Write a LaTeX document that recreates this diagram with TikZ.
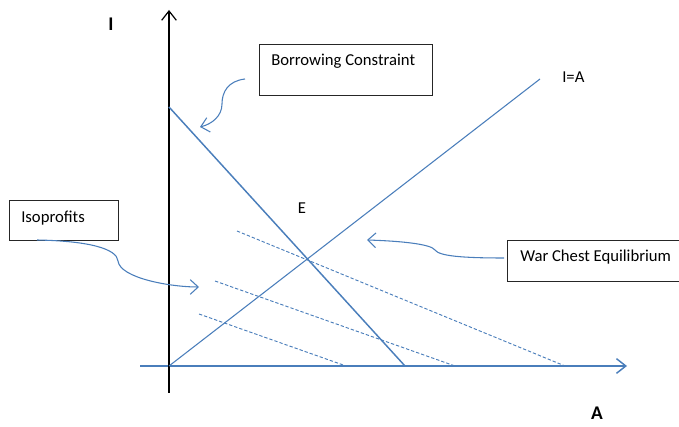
\documentclass[tikz,border=0pt]{standalone}
\usepackage{fontspec}
\setmainfont{Carlito}
\usetikzlibrary{arrows.meta}
\definecolor{lblue}{HTML}{4A7EBB}
\tikzset{
  box/.style={draw=black!85, line width=0.9pt, fill=white, anchor=north west, inner sep=0pt},
  txt/.style={font=\fontsize{12.5}{14}\selectfont, inner sep=0pt},
  axlabel/.style={font=\fontsize{14.5}{16}\selectfont\bfseries, inner sep=0pt},
  barb/.style={-{Straight Barb[length=7pt,width=11pt]}},
  callout/.style={lblue, line width=0.8pt, -{Straight Barb[length=6pt,width=11pt]}},
  iso/.style={lblue, line width=0.7pt, dash pattern=on 2.5pt off 1.5pt},
}
\begin{document}
\begin{tikzpicture}[x=0.75pt,y=-0.75pt]
\useasboundingbox (0,0) rectangle (679,427);
\clip (0,0) rectangle (679,427);
% coordinates
\coordinate (O) at (169,366);
\coordinate (ybot) at (169,393);
\coordinate (ytop) at (169,10);
\coordinate (xl) at (140,366);
\coordinate (xr) at (627,366);
\coordinate (bc1) at (169,107);
\coordinate (bc2) at (405,366);
\coordinate (ia2) at (540,79);
\coordinate (d1a) at (237,231); \coordinate (d1b) at (565,366);
\coordinate (d2a) at (215,281); \coordinate (d2b) at (455,366);
\coordinate (d3a) at (199,314); \coordinate (d3b) at (346,366);
% axes
\draw[lblue, line width=1.1pt, barb] (xl) -- (xr);
\draw[black, line width=0.9pt, barb] (ybot) -- (ytop);
% lines
\draw[lblue, line width=1.1pt] (bc1) -- (bc2);
\draw[lblue, line width=0.8pt] (O) -- (ia2);
\draw[iso] (d1a) -- (d1b);
\draw[iso] (d2a) -- (d2b);
\draw[iso] (d3a) -- (d3b);
% labels
\node[axlabel] (lI) at (111,24) {I};
\node[axlabel] (lA) at (597,413) {A};
\node[txt] (lE) at (302,208) {E};
\node[txt, anchor=west] (lIA) at (562,77) {I=A};
% boxes
\node[box, minimum width=173*0.75pt, minimum height=51*0.75pt] (bcbox) at (259,44) {};
\node[txt, anchor=west] (bctxt) at (271,61) {Borrowing Constraint};
\node[box, minimum width=109*0.75pt, minimum height=40*0.75pt] (isobox) at (9,200) {};
\node[txt, anchor=west] (isotxt) at (21,218) {Isoprofits};
\node[box, minimum width=190*0.75pt, minimum height=41*0.75pt] (wcbox) at (507,240) {};
\node[txt, anchor=west] (wctxt) at (520,257) {War Chest Equilibrium};
% callout arrows
\coordinate (bcs) at (245,79);
\coordinate (bct) at (200,127);
\draw[callout] (bcs) .. controls (228,81) and (222,92) .. (222,104) .. controls (222,116) and (212,124) .. (bct);
\coordinate (isos) at (37,240);
\coordinate (isot) at (199,287);
\draw[callout] (isos) .. controls (90,241) and (117,249) .. (118,261) .. controls (120,278) and (170,287) .. (isot);
\coordinate (wcs) at (504,258);
\coordinate (wct) at (367,240);
\draw[callout] (wcs) .. controls (462,258) and (439,256) .. (435,250) .. controls (431,244) and (400,241) .. (wct);
\end{tikzpicture}
\end{document}
